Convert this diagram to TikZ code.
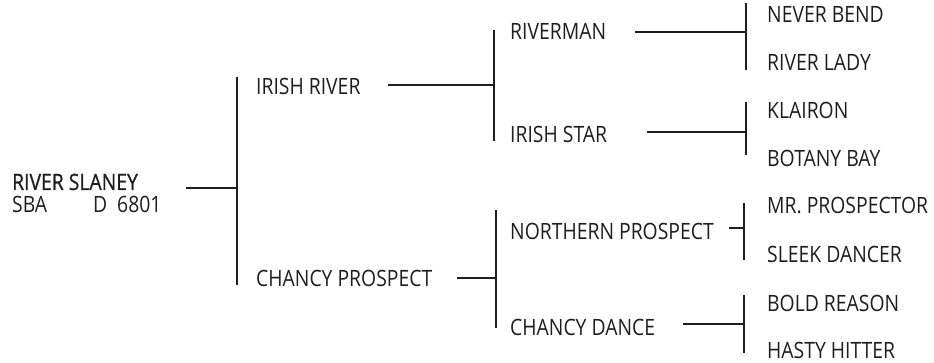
\documentclass[tikz,border=0pt]{standalone}
\usepackage{fontspec}
\setmainfont{Open Sans}[FakeStretch=0.86]
\newfontfamily\rootfont{Open Sans}[FakeStretch=0.86,FakeBold=0.7]
\definecolor{ink}{HTML}{1E1E1E}
\begin{document}
\begin{tikzpicture}[x=1pt,y=-1pt,
  lbl/.style={anchor=base west,inner sep=0pt,text=ink,font=\fontsize{22.5}{26}\selectfont},
  bar/.style={draw=ink,line width=1.2pt}]
\useasboundingbox (0,0) rectangle (934,363);
% root
\node[lbl,font=\fontsize{22.5}{26}\rootfont] (root) at (12,190) {RIVER SLANEY};
\node[lbl] (sba) at (12,213) {SBA};
\node[lbl] (d) at (93,213) {D};
\node[lbl] (num) at (117,213) {6801};
% generation 1
\node[lbl] (ir) at (256,95) {IRISH RIVER};
\node[lbl] (cp) at (256,287) {CHANCY PROSPECT};
% generation 2
\node[lbl] (rm) at (510,40) {RIVERMAN};
\node[lbl] (is) at (510,143) {IRISH STAR};
\node[lbl] (np) at (510,240) {NORTHERN PROSPECT};
\node[lbl] (cd) at (510,335) {CHANCY DANCE};
% generation 3
\node[lbl] (nb) at (767,23) {NEVER BEND};
\node[lbl] (rl) at (767,71) {RIVER LADY};
\node[lbl] (kl) at (767,119) {KLAIRON};
\node[lbl] (bb) at (767,167) {BOTANY BAY};
\node[lbl] (mp) at (767,214) {MR. PROSPECTOR};
\node[lbl] (sd) at (767,263) {SLEEK DANCER};
\node[lbl] (br) at (767,312) {BOLD REASON};
\node[lbl] (hh) at (767,358) {HASTY HITTER};
% bar end points
\coordinate (b0t) at (237,77);  \coordinate (b0b) at (237,285);
\coordinate (b1t) at (494,30);  \coordinate (b1b) at (494,141);
\coordinate (b2t) at (496,210); \coordinate (b2b) at (496,328);
\coordinate (b3t) at (746,3);   \coordinate (b3b) at (746,70);
\coordinate (b4t) at (746,102); \coordinate (b4b) at (746,155);
\coordinate (b5t) at (744,203); \coordinate (b5b) at (744,260);
\coordinate (b6t) at (744,295); \coordinate (b6b) at (744,353);
% connector starts
\coordinate (s0) at (186,188);
\coordinate (s1) at (388,85);
\coordinate (s2) at (457,278);
\coordinate (s3) at (635,32);
\coordinate (s4) at (647,132);
\coordinate (s5) at (729,228);
\coordinate (s6) at (683,324);
% bars
\foreach \i in {0,...,6} {\draw[bar] (b\i t) -- (b\i b);}
% connectors
\draw[bar] (s0) -- (s0 -| b0t);
\draw[bar] (s1) -- (s1 -| b1t);
\draw[bar] (s2) -- (s2 -| b2t);
\draw[bar] (s3) -- (s3 -| b3t);
\draw[bar] (s4) -- (s4 -| b4t);
\draw[bar] (s5) -- (s5 -| b5t);
\draw[bar] (s6) -- (s6 -| b6t);
\end{tikzpicture}
\end{document}
